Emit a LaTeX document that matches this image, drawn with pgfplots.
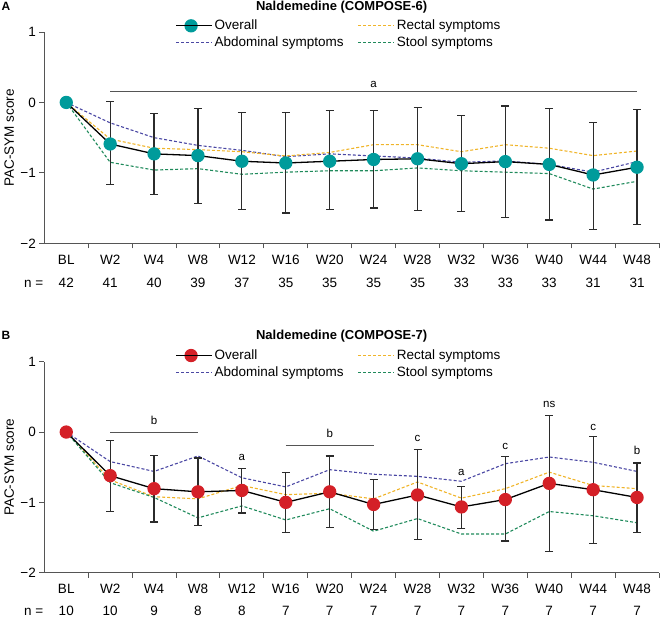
\documentclass[border=0pt]{standalone}
\usepackage{fontspec}
\setmainfont{Liberation Sans}
\usepackage{pgfplots}
\usepackage{pgfplotstable}
\pgfplotsset{compat=1.18}

\definecolor{cteal}{HTML}{009B9B}
\definecolor{cred}{HTML}{D42027}
\definecolor{cabd}{HTML}{4A47A3}
\definecolor{crec}{HTML}{F0B429}
\definecolor{csto}{HTML}{1F8A5B}
\definecolor{caxis}{HTML}{555555}
\definecolor{cerr}{HTML}{2B2B2B}

\newcommand\fs{\fontsize{13.5bp}{16bp}\selectfont}
\newcommand\fss{\fontsize{11.5bp}{13bp}\selectfont}

% Panel A: COMPOSE-6
\pgfplotstableread{
x ov ep em ab re st
0 0 0 0 0 0 0
1 -0.59 0.60 0.58 -0.29 -0.52 -0.85
2 -0.73 0.57 0.58 -0.50 -0.65 -0.96
3 -0.755 0.665 0.675 -0.61 -0.67 -0.94
4 -0.835 0.695 0.685 -0.68 -0.70 -1.02
5 -0.86 0.72 0.71 -0.77 -0.76 -0.99
6 -0.835 0.715 0.685 -0.73 -0.71 -0.97
7 -0.81 0.70 0.69 -0.76 -0.60 -0.97
8 -0.80 0.73 0.73 -0.79 -0.60 -0.93
9 -0.87 0.68 0.68 -0.85 -0.70 -0.97
10 -0.84 0.79 0.79 -0.83 -0.60 -0.99
11 -0.88 0.79 0.79 -0.88 -0.65 -1.01
12 -1.03 0.75 0.77 -0.99 -0.755 -1.23
13 -0.92 0.82 0.81 -0.84 -0.69 -1.12
}\tabA

% Panel B: COMPOSE-7
\pgfplotstableread{
x ov ep em ab re st
0 0 0 0 0 0 0
1 -0.62 0.50 0.51 -0.42 -0.68 -0.72
2 -0.805 0.475 0.475 -0.56 -0.92 -0.93
3 -0.85 0.48 0.48 -0.34 -0.95 -1.22
4 -0.83 0.31 0.32 -0.65 -0.76 -1.05
5 -1.00 0.43 0.43 -0.78 -0.89 -1.25
6 -0.85 0.51 0.51 -0.535 -0.87 -1.09
7 -1.03 0.35 0.35 -0.60 -0.95 -1.41
8 -0.895 0.645 0.635 -0.63 -0.71 -1.23
9 -1.065 0.295 0.305 -0.70 -0.94 -1.45
10 -0.96 0.61 0.59 -0.45 -0.805 -1.45
11 -0.73 0.96 0.97 -0.355 -0.57 -1.13
12 -0.82 0.76 0.76 -0.43 -0.76 -1.19
13 -0.93 0.49 0.50 -0.56 -0.805 -1.29
}\tabB

\pgfplotsset{
  dsh/.style={line width=1.1bp, dash pattern=on 3bp off 2bp},
  panel/.style={
    scale only axis, width=614.7bp, height=211.3bp,
    xmin=-0.5, xmax=13.5, ymin=-2, ymax=1,
    axis x line=bottom, axis y line=left,
    axis line style={-, draw=caxis, line width=1bp},
    xtick={0.5,1.5,...,13.5}, xticklabels={},
    extra x ticks={0,1,...,13},
    extra x tick labels={BL,W2,W4,W8,W12,W16,W20,W24,W28,W32,W36,W40,W44,W48},
    extra x tick style={major tick length=0pt, xticklabel style={anchor=base, yshift=-21bp}},
    ytick={-2,-1,0,1}, yticklabels={−2,−1,0,1},
    tick align=outside, major tick length=5bp,
    tick style={draw=caxis, line width=1bp},
    tick label style={font=\fs, text=black},
    ylabel={PAC-SYM score},
    ylabel style={font=\fs, at={(axis description cs:-0.057,0.5)}, anchor=center, rotate=0},
    clip=false,
    legend columns=2,
    legend cell align=left,
    legend image code/.code={\draw[mark repeat=2,mark phase=2,##1] plot coordinates {(0bp,0bp)(15bp,0bp)(30bp,0bp)}; \path (0bp,0bp) -- (36bp,0bp);},
    legend style={draw=none, fill=none, font=\fs, inner sep=0pt, row sep=1.5bp,
      at={(axis description cs:0.213,1)}, anchor=north west, yshift=14bp,
      /tikz/every even column/.append style={column sep=12bp}},
  },
}

\begin{document}
\begin{tikzpicture}
\useasboundingbox (0bp,0bp) rectangle (660bp,-617bp);

\node[font=\fontsize{12bp}{14bp}\selectfont\bfseries, anchor=base] at (6bp,-10bp) {A};
\node[font=\fontsize{13bp}{15bp}\selectfont\bfseries, anchor=base] at (341.7bp,-10.7bp) {Naldemedine (COMPOSE-6)};
\node[font=\fontsize{12bp}{14bp}\selectfont\bfseries, anchor=base] at (6bp,-339.3bp) {B};
\node[font=\fontsize{13bp}{15bp}\selectfont\bfseries, anchor=base] at (341.7bp,-339.3bp) {Naldemedine (COMPOSE-7)};

\begin{axis}[panel, at={(44.3bp,-243.3bp)}, anchor=south west]
\addlegendimage{black, line width=1.3bp, mark=*, mark size=6bp, mark options={draw=cteal, fill=cteal}}
\addlegendentry{Overall}
\addlegendimage{crec, dsh}
\addlegendentry{Rectal symptoms}
\addlegendimage{cabd, dsh}
\addlegendentry{Abdominal symptoms}
\addlegendimage{csto, dsh}
\addlegendentry{Stool symptoms}

\addplot[forget plot, caxis, line width=1bp] coordinates {(1,0.15) (13,0.15)};
\node[font=\fss] at (axis cs:7,0.25) {a};

\addplot[forget plot, cabd, dsh] table[x=x, y=ab] {\tabA};
\addplot[forget plot, crec, dsh] table[x=x, y=re] {\tabA};
\addplot[forget plot, csto, dsh] table[x=x, y=st] {\tabA};
\addplot[forget plot, black, line width=1.3bp, mark=*, mark size=6bp,
  mark options={draw=cteal, fill=cteal},
  error bars/.cd, y dir=both, y explicit,
  error bar style={cerr, line width=1.2bp, solid},
  error mark options={rotate=90, cerr, line width=1.2bp, mark size=4bp}]
  table[x=x, y=ov, y error plus=ep, y error minus=em] {\tabA};

\node[font=\fs, anchor=base east] at (axis cs:-0.5,-2) [xshift=2.4bp, yshift=-44.4bp] {n =};
\node[font=\fs, anchor=base] at (axis cs:0,-2) [yshift=-44.4bp] {42};
\node[font=\fs, anchor=base] at (axis cs:1,-2) [yshift=-44.4bp] {41};
\node[font=\fs, anchor=base] at (axis cs:2,-2) [yshift=-44.4bp] {40};
\node[font=\fs, anchor=base] at (axis cs:3,-2) [yshift=-44.4bp] {39};
\node[font=\fs, anchor=base] at (axis cs:4,-2) [yshift=-44.4bp] {37};
\node[font=\fs, anchor=base] at (axis cs:5,-2) [yshift=-44.4bp] {35};
\node[font=\fs, anchor=base] at (axis cs:6,-2) [yshift=-44.4bp] {35};
\node[font=\fs, anchor=base] at (axis cs:7,-2) [yshift=-44.4bp] {35};
\node[font=\fs, anchor=base] at (axis cs:8,-2) [yshift=-44.4bp] {35};
\node[font=\fs, anchor=base] at (axis cs:9,-2) [yshift=-44.4bp] {33};
\node[font=\fs, anchor=base] at (axis cs:10,-2) [yshift=-44.4bp] {33};
\node[font=\fs, anchor=base] at (axis cs:11,-2) [yshift=-44.4bp] {33};
\node[font=\fs, anchor=base] at (axis cs:12,-2) [yshift=-44.4bp] {31};
\node[font=\fs, anchor=base] at (axis cs:13,-2) [yshift=-44.4bp] {31};
\end{axis}

\begin{axis}[panel, at={(44.3bp,-572.7bp)}, anchor=south west, height=211bp]
\addlegendimage{black, line width=1.3bp, mark=*, mark size=6bp, mark options={draw=cred, fill=cred}}
\addlegendentry{Overall}
\addlegendimage{crec, dsh}
\addlegendentry{Rectal symptoms}
\addlegendimage{cabd, dsh}
\addlegendentry{Abdominal symptoms}
\addlegendimage{csto, dsh}
\addlegendentry{Stool symptoms}

\addplot[forget plot, caxis, line width=1bp] coordinates {(1,0) (3,0)};
\addplot[forget plot, caxis, line width=1bp] coordinates {(5,-0.19) (7,-0.19)};
\node[font=\fss] at (axis cs:2,0.17) {b};
\node[font=\fss] at (axis cs:6,-0.02) {b};
\node[font=\fss] at (axis cs:4,-0.355) {a};
\node[font=\fss] at (axis cs:8,-0.085) {c};
\node[font=\fss] at (axis cs:9,-0.58) {a};
\node[font=\fss] at (axis cs:10,-0.20) {c};
\node[font=\fss] at (axis cs:11,0.39) {ns};
\node[font=\fss] at (axis cs:12,0.06) {c};
\node[font=\fss] at (axis cs:13,-0.26) {b};

\addplot[forget plot, cabd, dsh] table[x=x, y=ab] {\tabB};
\addplot[forget plot, crec, dsh] table[x=x, y=re] {\tabB};
\addplot[forget plot, csto, dsh] table[x=x, y=st] {\tabB};
\addplot[forget plot, black, line width=1.3bp, mark=*, mark size=6bp,
  mark options={draw=cred, fill=cred},
  error bars/.cd, y dir=both, y explicit,
  error bar style={cerr, line width=1.2bp, solid},
  error mark options={rotate=90, cerr, line width=1.2bp, mark size=4bp}]
  table[x=x, y=ov, y error plus=ep, y error minus=em] {\tabB};

\node[font=\fs, anchor=base east] at (axis cs:-0.5,-2) [xshift=2.4bp, yshift=-42.5bp] {n =};
\node[font=\fs, anchor=base] at (axis cs:0,-2) [yshift=-42.5bp] {10};
\node[font=\fs, anchor=base] at (axis cs:1,-2) [yshift=-42.5bp] {10};
\node[font=\fs, anchor=base] at (axis cs:2,-2) [yshift=-42.5bp] {9};
\node[font=\fs, anchor=base] at (axis cs:3,-2) [yshift=-42.5bp] {8};
\node[font=\fs, anchor=base] at (axis cs:4,-2) [yshift=-42.5bp] {8};
\node[font=\fs, anchor=base] at (axis cs:5,-2) [yshift=-42.5bp] {7};
\node[font=\fs, anchor=base] at (axis cs:6,-2) [yshift=-42.5bp] {7};
\node[font=\fs, anchor=base] at (axis cs:7,-2) [yshift=-42.5bp] {7};
\node[font=\fs, anchor=base] at (axis cs:8,-2) [yshift=-42.5bp] {7};
\node[font=\fs, anchor=base] at (axis cs:9,-2) [yshift=-42.5bp] {7};
\node[font=\fs, anchor=base] at (axis cs:10,-2) [yshift=-42.5bp] {7};
\node[font=\fs, anchor=base] at (axis cs:11,-2) [yshift=-42.5bp] {7};
\node[font=\fs, anchor=base] at (axis cs:12,-2) [yshift=-42.5bp] {7};
\node[font=\fs, anchor=base] at (axis cs:13,-2) [yshift=-42.5bp] {7};
\end{axis}
\end{tikzpicture}
\end{document}
